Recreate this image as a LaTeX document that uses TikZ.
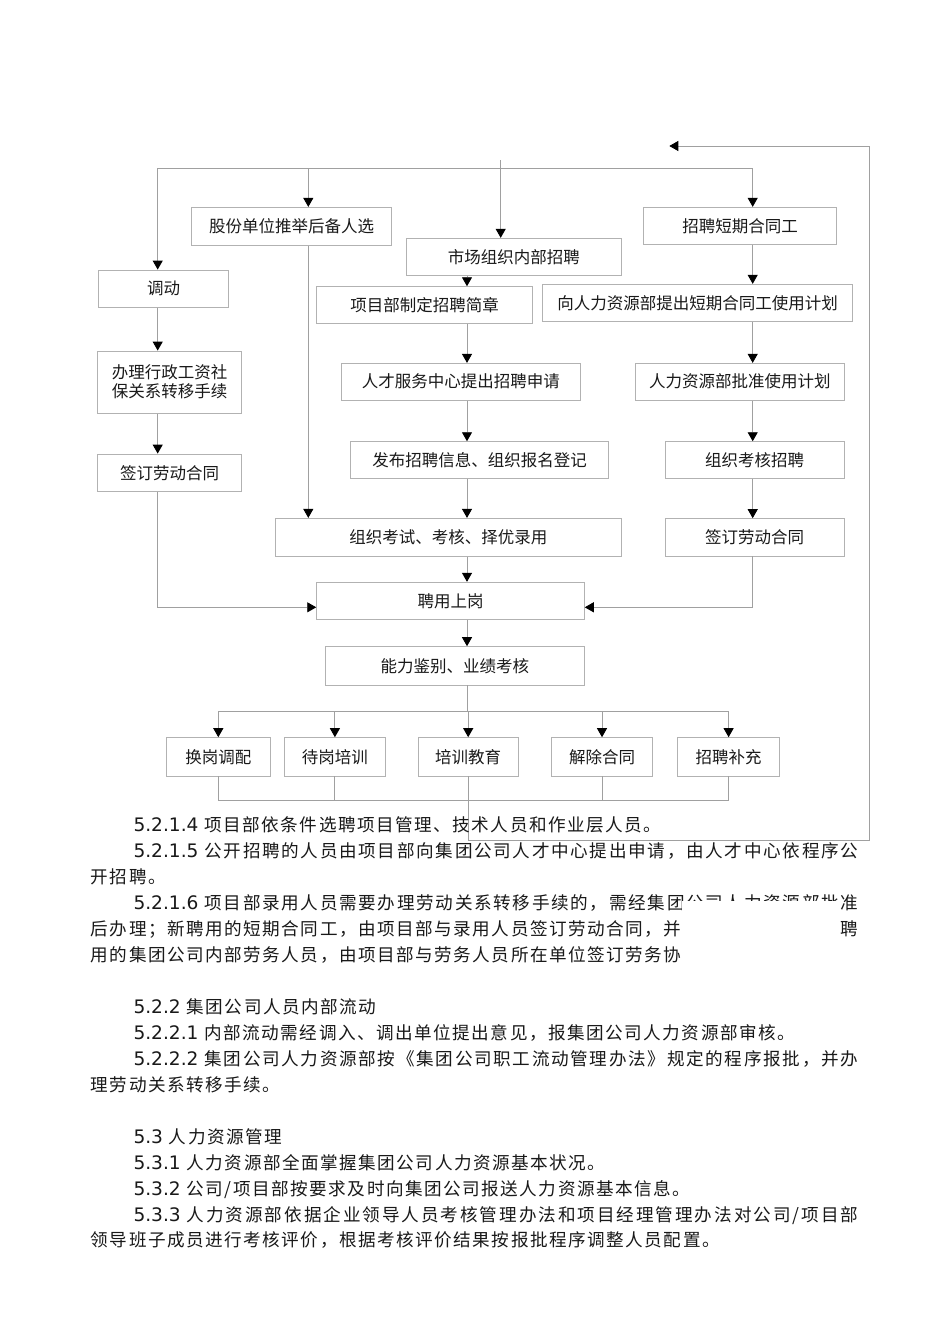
\documentclass[tikz,border=0pt]{standalone}
\usepackage{fontspec}
\setmainfont{Noto Sans CJK SC}
\newfontfamily\dvs{DejaVu Sans}
\usetikzlibrary{arrows.meta}
\definecolor{linegray}{RGB}{160,160,160}
\definecolor{boxgray}{RGB}{178,178,178}
\definecolor{txt}{RGB}{25,25,25}
\newcommand\boxfont{\fontsize{16.5}{19}\selectfont}
\newcommand\bodyfont{\fontsize{17.6}{26}\selectfont}
\newcommand\nm[1]{{\dvs\fontsize{18.6}{26}\selectfont #1 }}
\newskip\btskip
\btskip=1.5pt
\makeatletter
\def\cj@end{\cj@end}
\newcommand\bt[1]{\bt@loop#1\cj@end}
\def\bt@loop#1{\ifx#1\cj@end\unskip\else#1\hskip\btskip\relax\expandafter\bt@loop\fi}
\newcommand\btj[1]{{\btskip=1.5pt plus 1fil\relax\bt{#1}}}
\makeatother
\tikzset{
  fbox/.style={draw=boxgray, line width=0.9pt, inner sep=0pt, text=txt, font=\boxfont},
  conn/.style={draw=linegray, line width=0.9pt},
  arr/.style={conn, -{Triangle[length=9pt,width=10pt,black]}},
  body/.style={anchor=base west, inner sep=0pt, text=txt, font=\bodyfont},
  bodyr/.style={anchor=base east, inner sep=0pt, text=txt, font=\bodyfont},
}
\begin{document}
\begin{tikzpicture}[x=1pt,y=-1pt]
\useasboundingbox (0,0) rectangle (950,1344);
\fill[white] (0,0) rectangle (950,1344);

% ---------- boxes ----------
\node[fbox, minimum width=200.4pt, minimum height=37.7pt] (gufen) at (291.5,226.2) {股份单位推举后备人选};
\node[fbox, minimum width=129.6pt, minimum height=37.3pt] (diaodong) at (163.5,288.7) {调动};
\node[fbox, minimum width=144.4pt, minimum height=62.3pt, align=center] (banli) at (169.5,382.2) {办理行政工资社\\保关系转移手续};
\node[fbox, minimum width=144.4pt, minimum height=37.3pt] (qianL) at (169.5,472.7) {签订劳动合同};
\node[fbox, minimum width=215.7pt, minimum height=37pt] (shichang) at (513.8,256.8) {市场组织内部招聘};
\node[fbox, minimum width=215.6pt, minimum height=36.6pt] (xiangmu) at (424.5,305) {项目部制定招聘简章};
\node[fbox, minimum width=238.3pt, minimum height=36.7pt] (rencai) at (460.8,381.7) {人才服务中心提出招聘申请};
\node[fbox, minimum width=257.6pt, minimum height=36.6pt] (fabu) at (479.5,460) {发布招聘信息、组织报名登记};
\node[fbox, minimum width=346.7pt, minimum height=37.7pt] (kaoshi) at (448.3,537.2) {组织考试、考核、择优录用};
\node[fbox, minimum width=267.6pt, minimum height=37pt] (pinyong) at (450.5,600.8) {聘用上岗};
\node[fbox, minimum width=259pt, minimum height=38.3pt] (nengli) at (454.8,665.8) {能力鉴别、业绩考核};
\node[fbox, minimum width=193.4pt, minimum height=37pt] (zhaopin) at (740,225.8) {招聘短期合同工};
\node[fbox, minimum width=310pt, minimum height=37.4pt] (xiangrenli) at (697.7,303) {向人力资源部提出短期合同工使用计划};
\node[fbox, minimum width=209pt, minimum height=36.7pt] (pizhun) at (739.8,381.7) {人力资源部批准使用计划};
\node[fbox, minimum width=179.3pt, minimum height=36.6pt] (kaohe) at (754.7,460) {组织考核招聘};
\node[fbox, minimum width=179.3pt, minimum height=37.3pt] (qianR) at (754.7,537.3) {签订劳动合同};
\node[fbox, minimum width=104pt, minimum height=38.3pt] (huangang) at (218.3,756.8) {换岗调配};
\node[fbox, minimum width=101.2pt, minimum height=38.3pt] (daigang) at (334.9,756.8) {待岗培训};
\node[fbox, minimum width=100.2pt, minimum height=38.3pt] (peixun) at (468.2,756.8) {培训教育};
\node[fbox, minimum width=100.2pt, minimum height=38.3pt] (jiechu) at (602,756.8) {解除合同};
\node[fbox, minimum width=101.6pt, minimum height=38.3pt] (buchong) at (728.6,756.8) {招聘补充};

% ---------- connectors ----------
\coordinate (tl) at (157.7,168);
\coordinate (tr) at (752.7,168);
\coordinate (t1) at (308.3,168);
\coordinate (t2) at (500.7,160);
\coordinate (cc) at (467,840);
\coordinate (jl) at (157.7,607.3);
\coordinate (jr) at (752.7,607.3);
\coordinate (br) at (467,711);
\coordinate (mg) at (467,800.7);
\coordinate (fb1) at (869.3,840);
\coordinate (fb2) at (869.3,146);
\coordinate (fbend) at (669.3,146);

\draw[conn] (tl) -- (tr);
\draw[arr] (tl) -- (tl |- diaodong.north);
\draw[arr] (t1) -- (t1 |- gufen.north);
\draw[arr] (t2) -- (t2 |- shichang.north);
\draw[arr] (tr) -- (tr |- zhaopin.north);

\draw[arr] (tl |- diaodong.south) -- (tl |- banli.north);
\draw[arr] (tl |- banli.south) -- (tl |- qianL.north);
\draw[arr] (tl |- qianL.south) -- (jl) -- (jl -| pinyong.west);

\draw[arr] (t1 |- gufen.south) -- (t1 |- kaoshi.north);

\draw[arr] (cc |- shichang.south) -- (cc |- xiangmu.north);
\draw[arr] (cc |- xiangmu.south) -- (cc |- rencai.north);
\draw[arr] (cc |- rencai.south) -- (cc |- fabu.north);
\draw[arr] (cc |- fabu.south) -- (cc |- kaoshi.north);
\draw[arr] (cc |- kaoshi.south) -- (cc |- pinyong.north);
\draw[arr] (cc |- pinyong.south) -- (cc |- nengli.north);

\draw[arr] (tr |- zhaopin.south) -- (tr |- xiangrenli.north);
\draw[arr] (tr |- xiangrenli.south) -- (tr |- pizhun.north);
\draw[arr] (tr |- pizhun.south) -- (tr |- kaohe.north);
\draw[arr] (tr |- kaohe.south) -- (tr |- qianR.north);
\draw[arr] (tr |- qianR.south) -- (jr) -- (jr -| pinyong.east);

\draw[conn] (cc |- nengli.south) -- (br);
\draw[conn] (br -| huangang) -- (br -| buchong);
\foreach \n in {huangang,daigang,peixun,jiechu,buchong}
  \draw[arr] (br -| \n) -- (\n.north);

\draw[conn] (huangang.south) -- (huangang.south |- mg) -- (buchong.south |- mg) -- (buchong.south);
\draw[conn] (daigang.south) -- (daigang.south |- mg);
\draw[conn] (jiechu.south) -- (jiechu.south |- mg);
\draw[arr] (peixun.south) -- (peixun.south |- fb1) -- (fb1) -- (fb2) -- (fbend);

% ---------- body text ----------
\node[body] (p1) at (133.3,831.7) {\nm{5.2.1.4}\bt{项目部依条件选聘项目管理、技术人员和作业层人员。}};
\node[body] (p2) at (133.3,857.7) {\makebox[724.7pt][s]{\nm{5.2.1.5}\btj{公开招聘的人员由项目部向集团公司人才中心提出申请，由人才中心依程序公}}};
\node[body] (p3) at (90.7,883.6) {\bt{开招聘。}};
\node[body] (p4) at (133.3,909.6) {\makebox[724.7pt][s]{\nm{5.2.1.6}\btj{项目部录用人员需要办理劳动关系转移手续的，需经集团公司人力资源部批准}}};
\node[body] (p5) at (90.7,935.5) {\bt{后办理；新聘用的短期合同工，由项目部与录用人员签订劳动合同，并}};
\node[bodyr] (p5r) at (858,935.5) {聘};
\node[body] (p6) at (90.7,961.5) {\bt{用的集团公司内部劳务人员，由项目部与劳务人员所在单位签订劳务协}};
\fill[white] (682,901) rectangle (840,968);

\node[body] (p7) at (133.3,1013.4) {\nm{5.2.2}\bt{集团公司人员内部流动}};
\node[body] (p8) at (133.3,1039.3) {\nm{5.2.2.1}\bt{内部流动需经调入、调出单位提出意见，报集团公司人力资源部审核。}};
\node[body] (p9) at (133.3,1065.3) {\makebox[724.7pt][s]{\nm{5.2.2.2}\btj{集团公司人力资源部按《集团公司职工流动管理办法》规定的程序报批，并办}}};
\node[body] (p10) at (90.7,1091.2) {\bt{理劳动关系转移手续。}};

\node[body] (p11) at (133.3,1143.1) {\nm{5.3}\bt{人力资源管理}};
\node[body] (p12) at (133.3,1169.1) {\nm{5.3.1}\bt{人力资源部全面掌握集团公司人力资源基本状况。}};
\node[body] (p13) at (133.3,1195) {\nm{5.3.2}\bt{公司/项目部按要求及时向集团公司报送人力资源基本信息。}};
\node[body] (p14) at (133.3,1221) {\makebox[724.7pt][s]{\nm{5.3.3}\btj{人力资源部依据企业领导人员考核管理办法和项目经理管理办法对公司/项目部}}};
\node[body] (p15) at (90.7,1246.9) {\bt{领导班子成员进行考核评价，根据考核评价结果按报批程序调整人员配置。}};
\end{tikzpicture}
\end{document}
